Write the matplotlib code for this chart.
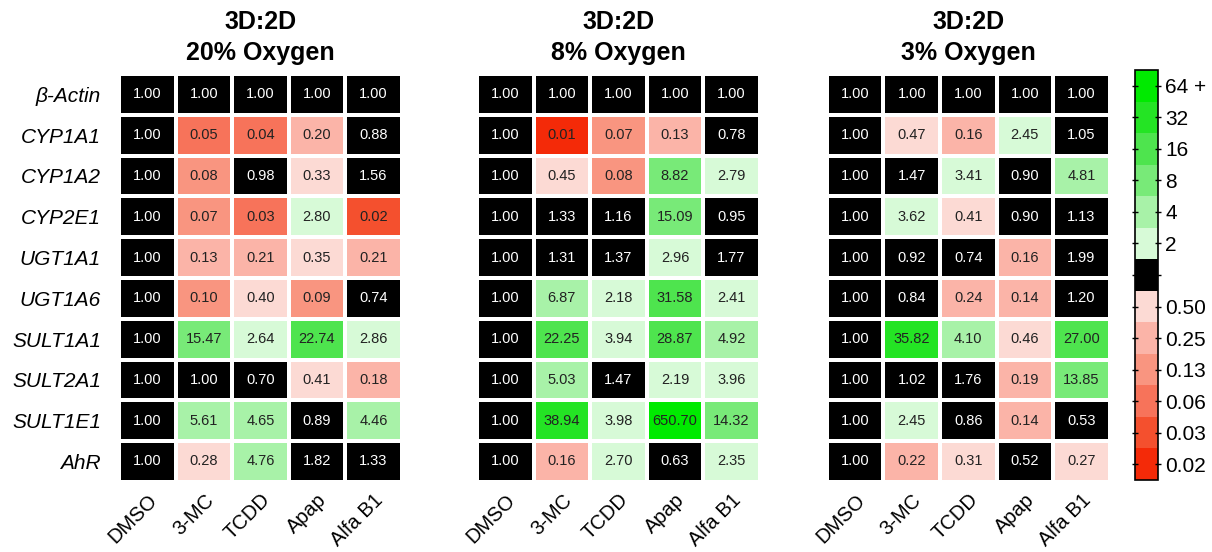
import numpy as np
import matplotlib
matplotlib.use("Agg")
import matplotlib.pyplot as plt
from matplotlib.colors import ListedColormap, BoundaryNorm

plt.rcParams['font.family'] = ['Liberation Sans', 'DejaVu Sans']

genes = ["β-Actin", "CYP1A1", "CYP1A2", "CYP2E1", "UGT1A1",
         "UGT1A6", "SULT1A1", "SULT2A1", "SULT1E1", "AhR"]
treatments = ["DMSO", "3-MC", "TCDD", "Apap", "Alfa B1"]

# fold change 3D vs 2D, rows = genes, cols = treatments
oxy20 = [
    [1.00, 1.00, 1.00, 1.00, 1.00],
    [1.00, 0.05, 0.04, 0.20, 0.88],
    [1.00, 0.08, 0.98, 0.33, 1.56],
    [1.00, 0.07, 0.03, 2.80, 0.02],
    [1.00, 0.13, 0.21, 0.35, 0.21],
    [1.00, 0.10, 0.40, 0.09, 0.74],
    [1.00, 15.47, 2.64, 22.74, 2.86],
    [1.00, 1.00, 0.70, 0.41, 0.18],
    [1.00, 5.61, 4.65, 0.89, 4.46],
    [1.00, 0.28, 4.76, 1.82, 1.33],
]
oxy8 = [
    [1.00, 1.00, 1.00, 1.00, 1.00],
    [1.00, 0.01, 0.07, 0.13, 0.78],
    [1.00, 0.45, 0.08, 8.82, 2.79],
    [1.00, 1.33, 1.16, 15.09, 0.95],
    [1.00, 1.31, 1.37, 2.96, 1.77],
    [1.00, 6.87, 2.18, 31.58, 2.41],
    [1.00, 22.25, 3.94, 28.87, 4.92],
    [1.00, 5.03, 1.47, 2.19, 3.96],
    [1.00, 38.94, 3.98, 650.70, 14.32],
    [1.00, 0.16, 2.70, 0.63, 2.35],
]
oxy3 = [
    [1.00, 1.00, 1.00, 1.00, 1.00],
    [1.00, 0.47, 0.16, 2.45, 1.05],
    [1.00, 1.47, 3.41, 0.90, 4.81],
    [1.00, 3.62, 0.41, 0.90, 1.13],
    [1.00, 0.92, 0.74, 0.16, 1.99],
    [1.00, 0.84, 0.24, 0.14, 1.20],
    [1.00, 35.82, 4.10, 0.46, 27.00],
    [1.00, 1.02, 1.76, 0.19, 13.85],
    [1.00, 2.45, 0.86, 0.14, 0.53],
    [1.00, 0.22, 0.31, 0.52, 0.27],
]
titles = ["3D:2D\n20% Oxygen", "3D:2D\n8% Oxygen", "3D:2D\n3% Oxygen"]

# fold-change bins, from most down to most up
bounds = [0.0, 0.015, 0.025, 0.06, 0.125, 0.25, 0.5, 2, 4, 8, 16, 32, 64, 1e6]
colors = ["#f42a08", "#f4502e", "#f7735a", "#f99580", "#fbb4a8", "#fcdad4",
          "#000000",
          "#d7fad7", "#a8f2a8", "#78ea78", "#4ee44e", "#24e424", "#00ea00"]
cbar_labels = ["0.02", "0.03", "0.06", "0.13", "0.25", "0.50", "",
               "2", "4", "8", "16", "32", "64 +"]

cmap = ListedColormap(colors)
norm = BoundaryNorm(bounds, cmap.N)

fig = plt.figure(figsize=(12.12, 5.52), dpi=100)
lefts = [0.0982, 0.3936, 0.6823]
axes = [fig.add_axes([l, 0.127, 0.2333, 0.739]) for l in lefts]

for ax, data, title in zip(axes, [oxy20, oxy8, oxy3], titles):
    vals = np.array(data)
    ax.pcolormesh(vals, cmap=cmap, norm=norm, edgecolors="white", linewidth=1.5)
    ax.set_xlim(0, len(treatments))
    ax.set_ylim(len(genes), 0)
    for i in range(vals.shape[0]):
        for j in range(vals.shape[1]):
            v = vals[i, j]
            txt_color = "white" if 0.5 <= v < 2 else "#222222"
            ax.text(j + 0.5, i + 0.5, f"{v:.2f}", ha="center", va="center",
                    fontsize=10.5, color=txt_color)
    ax.set_xticks(np.arange(len(treatments)) + 0.5)
    ax.set_xticklabels(treatments, rotation=45, ha="right", rotation_mode="anchor",
                       fontsize=14.5)
    ax.set_yticks(np.arange(len(genes)) + 0.5)
    if ax is axes[0]:
        ax.set_yticklabels(genes, fontsize=15, style="italic")
    else:
        ax.set_yticklabels([])
    ax.tick_params(axis="x", length=0, pad=6)
    ax.tick_params(axis="y", length=0, pad=13)
    for s in ax.spines.values():
        s.set_visible(False)
    ax.set_title(title, fontsize=18, fontweight="bold", pad=10, linespacing=1.35)

# discrete colour key
cax = fig.add_axes([0.9365, 0.1304, 0.019, 0.7428])
cb = fig.colorbar(plt.cm.ScalarMappable(norm=norm, cmap=cmap), cax=cax,
                  spacing="uniform")
centers = [(bounds[k] + bounds[k + 1]) / 2 for k in range(len(bounds) - 1)]
cb.set_ticks(centers)
cb.set_ticklabels(cbar_labels)
cb.ax.minorticks_off()
cb.ax.tick_params(labelsize=15, length=4, width=1, direction="inout",
                  left=True, right=True, pad=3)
cb.outline.set_linewidth(1.2)

fig.savefig("out.png", dpi=100)
